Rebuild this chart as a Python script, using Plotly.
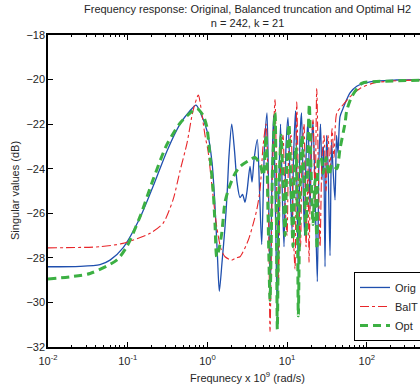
import plotly.graph_objects as go

# ---- data ----
orig_freq = [0.01, 0.0252, 0.0449, 0.06, 0.0873, 0.1427, 0.2077, 0.3112, 0.453, 0.6048, 0.7194,
             0.8313, 0.9885, 1.142, 1.2456, 1.339, 1.4105, 1.525, 1.663, 1.762, 1.866, 2.018,
             2.188, 2.352, 2.565, 2.757, 2.963, 3.14, 3.423, 3.627, 3.843, 4.228, 4.506, 4.80,
             5.205, 5.595, 5.93, 6.154, 6.465, 6.752, 7.152, 7.534, 7.914, 8.265, 8.757, 9.144,
             9.687, 10.26, 10.87, 11.52, 12.03, 12.75, 13.31, 13.90, 14.52, 15.16, 15.83, 16.53,
             17.27, 18.29, 19.38, 20.24, 21.13, 22.39, 23.93, 25.13, 26.24, 27.41, 28.62, 29.89,
             31.22, 32.6, 34.54, 36.07, 37.66, 39.9, 41.68, 43.52, 46.1, 50.28, 53.27, 61.53,
             74.7, 109.7, 237.2, 465, 1000]
orig_db = [-28.4, -28.38, -28.3, -28.1, -27.55, -26.2, -24.8, -23.2, -22.0, -21.4, -21.15,
           -21.55, -22.3, -23.7, -25.7, -28.0, -29.5, -28.2, -26.6, -25.2, -23.4, -22.0,
           -23.2, -24.6, -25.3, -25.15, -25.5, -25.0, -23.9, -24.6, -23.6, -22.7, -25.0, -27.4,
           -23.0, -21.5, -26.5, -29.7, -24.0, -21.6, -26.0, -30.7, -24.5, -22.0, -25.5, -27.5,
           -23.0, -21.7, -24.5, -26.8, -23.5, -21.4, -25.0, -29.0, -22.5, -21.5, -24.5, -27.0,
           -23.5, -21.8, -25.8, -23.0, -21.9, -25.0, -29.07, -23.5, -22.0, -24.5, -23.0, -28.4,
           -22.5, -23.8, -27.9, -22.8, -24.0, -25.4, -22.5, -23.3, -21.66, -21.3, -21.07, -20.6,
           -20.3, -20.1, -20.02, -20.0, -20.0]

bal_freq = [0.01, 0.0449, 0.0873, 0.1905, 0.2773, 0.3701, 0.453, 0.5546, 0.6597, 0.7688,
            0.848, 0.933, 1.0175, 1.142, 1.308, 1.481, 1.663, 2.018, 2.285, 2.565, 3.261,
            3.766, 4.155, 4.571, 4.985, 5.436, 5.843, 6.103, 6.558, 7.049, 7.469, 7.8, 8.265,
            8.884, 9.412, 9.97, 10.56, 11.19, 11.86, 12.56, 13.2, 13.90, 14.73, 15.38, 16.29,
            17.27, 18.29, 18.83, 19.95, 21.13, 22.39, 23.52, 24.77, 25.87, 27.41, 29.04, 30.77,
            32.6, 34.54, 36.6, 38.78, 41.92, 48.43, 61.53, 82.16, 119.6, 237.2, 1000]
bal_db = [-27.55, -27.5, -27.35, -26.9, -26.45, -25.4, -24.1, -22.85, -21.4, -20.7,
          -21.5, -22.5, -23.2, -24.8, -26.6, -27.6, -27.95, -28.1, -28.0, -27.95, -27.2,
          -26.45, -25.85, -24.95, -23.0, -22.0, -26.0, -31.3, -24.0, -20.9, -26.0, -29.0, -24.0,
          -22.5, -25.5, -27.0, -23.0, -22.5, -26.5, -28.5, -21.0, -25.0, -27.5, -23.5, -22.0,
          -27.5, -24.0, -28.2, -23.0, -21.8, -25.5, -20.4, -24.5, -27.5, -23.5, -22.5, -25.0,
          -22.5, -24.0, -22.2, -23.5, -21.5, -21.2, -20.77, -20.4, -20.16, -20.05, -20.0]

opt_freq = [0.01, 0.03365, 0.0728, 0.0972, 0.1427, 0.2077, 0.3085, 0.453, 0.6353, 0.7404,
            0.8807, 0.98, 1.078, 1.186, 1.2456, 1.308, 1.398, 1.512, 1.663, 1.829, 2.157,
            2.565, 3.423, 3.956, 4.571, 5.028, 5.436, 5.759, 6.103, 6.558, 7.049, 7.362, 7.534,
            7.914, 8.385, 8.884, 9.412, 9.97, 10.56, 11.19, 11.86, 12.38, 12.93, 13.51, 13.82,
            14.52, 15.38, 16.29, 17.27, 18.03, 19.0, 19.95, 21.13, 22.39, 23.72, 25.13, 26.62,
            28.46, 30.77, 33.55, 36.6, 41.92, 46.1, 53.27, 55.95, 64.65, 86.3, 133.1, 1000]
opt_db = [-28.95, -28.7, -28.1, -27.5, -26.15, -24.5, -22.93, -21.96, -21.44, -21.3,
          -21.6, -22.1, -23.46, -25.1, -26.5, -27.95, -27.6, -26.9, -25.5, -24.95, -24.3,
          -23.9, -23.6, -23.5, -23.8, -24.3, -22.5, -26.0, -29.9, -24.0, -21.5, -27.0, -31.2,
          -25.0, -22.5, -24.5, -27.0, -23.5, -22.0, -25.0, -27.5, -24.0, -23.0, -27.0, -30.6,
          -25.0, -22.5, -24.5, -27.0, -24.0, -21.1, -24.0, -26.5, -24.5, -27.6, -23.5, -23.5,
          -24.2, -23.5, -24.3, -23.8, -24.0, -23.1, -21.96, -21.4, -20.77, -20.17, -20.09, -20.0]

# legend labels as visible in the (cropped) reference
series_names = ["Orig", "BalT", "Opt"]
x_tick_vals = [0.01, 0.1, 1, 10, 100]
x_tick_text = ["10<sup>-2</sup>", "10<sup>-1</sup>", "10<sup>0</sup>", "10<sup>1</sup>", "10<sup>2</sup>"]
y_tick_vals = [-32, -30, -28, -26, -24, -22, -20, -18]

FONT = "Liberation Sans, Arial, sans-serif"
TXT = "#262626"

fig = go.Figure()
fig.add_trace(go.Scatter(x=orig_freq, y=orig_db, name=series_names[0], mode="lines",
                         line=dict(color="#1f4fae", width=1.3, shape="spline", smoothing=0.7)))
fig.add_trace(go.Scatter(x=bal_freq, y=bal_db, name=series_names[1], mode="lines",
                         line=dict(color="#e8262a", width=1.1, dash="dashdot",
                                   shape="spline", smoothing=0.7)))
fig.add_trace(go.Scatter(x=opt_freq, y=opt_db, name=series_names[2], mode="lines",
                         line=dict(color="#3cb043", width=3, dash="8px,5px",
                                   shape="spline", smoothing=0.7)))

fig.update_layout(
    width=420, height=389,
    margin=dict(l=48, r=0, t=35, b=42, autoexpand=False),
    paper_bgcolor="white", plot_bgcolor="white",
    font=dict(family=FONT, size=11, color=TXT),
    showlegend=True,
    legend=dict(x=0.8226, y=0.2405, xanchor="left", yanchor="top",
                bgcolor="white", bordercolor="black", borderwidth=1,
                font=dict(family=FONT, size=11, color=TXT), tracegroupgap=0),
    xaxis=dict(type="log", range=[-2, 2.667], tickvals=x_tick_vals, ticktext=x_tick_text,
               ticks="inside", ticklen=5, tickcolor="black", showgrid=False, zeroline=False,
               showline=True, linecolor="black", linewidth=1.5, mirror="ticks",
               ticklabelstandoff=3,
               minor=dict(dtick="D1", ticks="inside", ticklen=2.5, tickcolor="black", showgrid=False),
               tickfont=dict(family=FONT, size=11, color=TXT)),
    yaxis=dict(range=[-32, -18], tickvals=y_tick_vals, ticks="inside", ticklen=5,
               tickcolor="black", showgrid=False, zeroline=False, showline=True,
               linecolor="black", linewidth=1.5, mirror=False, ticklabelstandoff=-1,
               tickfont=dict(family=FONT, size=11, color=TXT)),
    annotations=[
        dict(text="Frequency response: Original, Balanced truncation and Optimal H2<br>n = 242, k = 21",
             xref="x", yref="paper", x=0.5, y=1.0, yshift=4, xanchor="center", yanchor="bottom",
             showarrow=False, font=dict(family=FONT, size=11, color=TXT)),
        dict(text="Frequnecy x 10<sup>9</sup> (rad/s)", xref="x", yref="paper", x=0.5, y=0,
             yshift=-21, xanchor="center", yanchor="top", showarrow=False,
             font=dict(family=FONT, size=11, color=TXT)),
        dict(text="Singular values (dB)", xref="paper", yref="paper", x=0, y=0.5, xshift=-33,
             xanchor="center", yanchor="middle", textangle=-90, showarrow=False,
             font=dict(family=FONT, size=11, color=TXT)),
    ],
)

fig.write_html("out.html")
